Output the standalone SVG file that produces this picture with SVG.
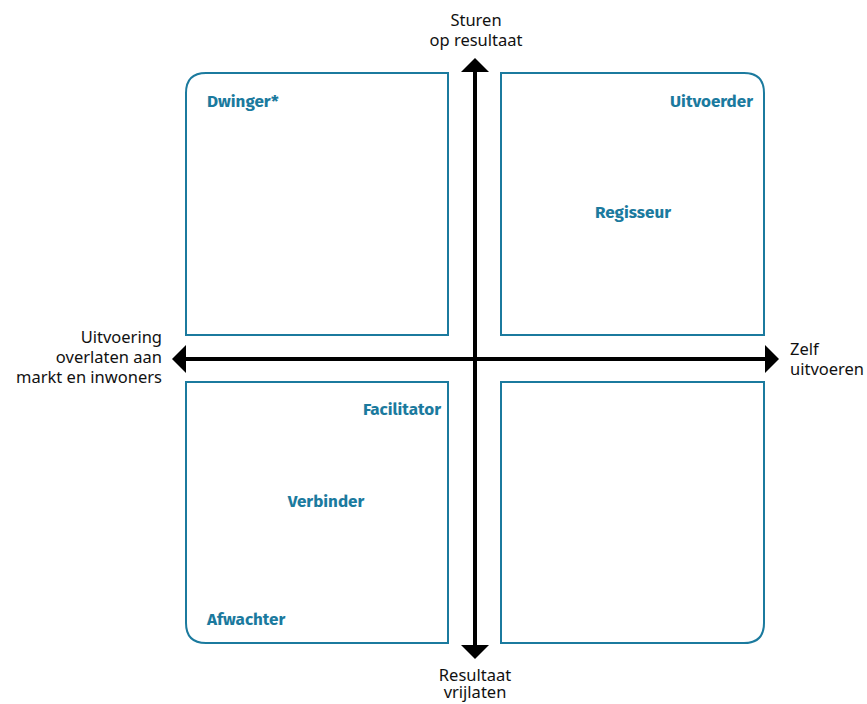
<svg xmlns="http://www.w3.org/2000/svg" width="867" height="704" viewBox="0 0 867 704">
<style>
.box{fill:none;stroke:#1b7a9e;stroke-width:2}
.lbl{font-family:"Fira Sans","Noto Sans","Liberation Sans",sans-serif;font-weight:bold;font-size:17px;fill:#1b7a9e}
.ax{font-family:"Noto Sans","Liberation Sans",sans-serif;font-size:16.5px;fill:#111}
.axis{stroke:#000;stroke-width:4}
</style>
<defs>
<marker id="ah" viewBox="0 0 14 28" refX="0" refY="14" markerWidth="14" markerHeight="28" markerUnits="userSpaceOnUse" orient="auto">
<path d="M0,0 L14,14 L0,28 Z" fill="#000"/>
</marker>
</defs>
<g id="q-top-left">
<path class="box" d="M186,335 V93 Q186,73 206,73 H448 V335 Z"/>
<text class="lbl" x="207" y="107">Dwinger*</text>
</g>
<g id="q-top-right">
<path class="box" d="M501,73 H744 Q764,73 764,93 V335 H501 Z"/>
<text class="lbl" x="753" y="107" text-anchor="end">Uitvoerder</text>
<text class="lbl" x="633" y="218" text-anchor="middle">Regisseur</text>
</g>
<g id="q-bottom-left">
<path class="box" d="M186,382 H448 V643 H206 Q186,643 186,623 Z"/>
<text class="lbl" x="441" y="415" text-anchor="end">Facilitator</text>
<text class="lbl" x="326" y="507" text-anchor="middle">Verbinder</text>
<text class="lbl" x="207" y="625">Afwachter</text>
</g>
<g id="q-bottom-right">
<path class="box" d="M501,382 H764 V623 Q764,643 744,643 H501 Z"/>
</g>
<g id="connectors">
<line class="axis" x1="475" y1="359" x2="475" y2="72" marker-end="url(#ah)"/>
<line class="axis" x1="475" y1="359" x2="475" y2="645" marker-end="url(#ah)"/>
<line class="axis" x1="475" y1="359" x2="765" y2="359" marker-end="url(#ah)"/>
<line class="axis" x1="475" y1="359" x2="186" y2="359" marker-end="url(#ah)"/>
</g>
<g id="axis-labels">
<text class="ax" x="476" y="26" text-anchor="middle">Sturen</text>
<text class="ax" x="476" y="46" text-anchor="middle">op resultaat</text>
<text class="ax" x="475" y="681" text-anchor="middle">Resultaat</text>
<text class="ax" x="475" y="698" text-anchor="middle">vrijlaten</text>
<text class="ax" x="162" y="343" text-anchor="end">Uitvoering</text>
<text class="ax" x="162" y="363" text-anchor="end">overlaten aan</text>
<text class="ax" x="162" y="383" text-anchor="end">markt en inwoners</text>
<text class="ax" x="790" y="355">Zelf</text>
<text class="ax" x="790" y="375">uitvoeren</text>
</g>
</svg>
